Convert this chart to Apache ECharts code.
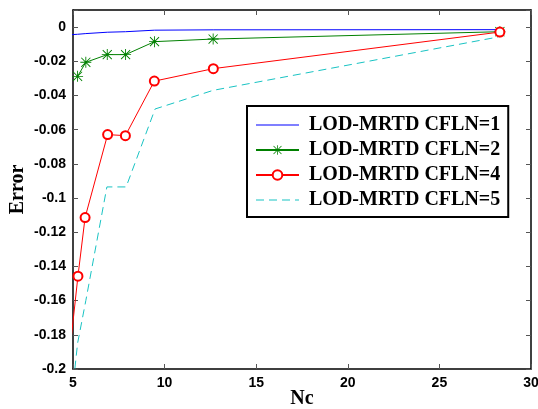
<!DOCTYPE html>
<html>
<head>
<meta charset="utf-8">
<script src="https://cdn.jsdelivr.net/npm/echarts@6/dist/echarts.min.js"></script>
<style>
  html, body { margin: 0; padding: 0; background: #fff; }
  #chart { width: 538px; height: 409px; }
</style>
</head>
<body>
<div id="chart"></div>
<script>
// Nc values (first point of some curves sits just left of the axis and is clipped)
const ncCfl1 = [4.8, 5.25, 5.7, 6.87, 7.87, 9.45, 12.65, 28.3]
const errCfl1 = [-0.0045, -0.0042, -0.0038, -0.003, -0.0027, -0.0018, -0.0016, -0.0015]

const ncCfl2 = [5.25, 5.7, 6.87, 7.87, 9.45, 12.65, 28.3]
const errCfl2 = [-0.0288, -0.0206, -0.0161, -0.0161, -0.0085, -0.007, -0.0027]

const ncCfl4 = [4.8, 5.27, 5.66, 6.89, 7.86, 9.44, 12.66, 28.3]
const errCfl4 = [-0.192, -0.1457, -0.1114, -0.0629, -0.0635, -0.0316, -0.0243, -0.0029]

const ncCfl5 = [4.8, 5.25, 5.7, 6.85, 7.9, 9.48, 12.65, 28.2]
const errCfl5 = [-0.23, -0.185, -0.16, -0.0935, -0.0935, -0.0479, -0.037, -0.0058]

const seriesNames = ['LOD-MRTD CFLN=1', 'LOD-MRTD CFLN=2', 'LOD-MRTD CFLN=4', 'LOD-MRTD CFLN=5']

const zip = (xs, ys) => xs.map((x, i) => [x, ys[i]])

// asterisk marker like matlab '*'
const star = 'path://M9.2,0h1.6v20h-1.6z M0,9.2h20v1.6h-20z M2.3,1.2L18.8,17.7L17.7,18.8L1.2,2.3z M17.7,1.2L18.8,2.3L2.3,18.8L1.2,17.7z'
// legend icons for the marker-less curves (thin sliver on the left keeps the 12px box)
const solidIcon = 'path://M0,5.5h43v1h-43z M0,0h0.01v12h-0.01z'
const dashIcon = 'path://M0,5.5h8v1h-8z M13,5.5h8v1h-8z M26,5.5h8v1h-8z M39,5.5h4v1h-4z M0,0h0.01v12h-0.01z'

const chart = echarts.init(document.getElementById('chart'))
const tickStyle = { show: true, inside: true, length: 5, lineStyle: { color: '#555', width: 1 } }
const frameLine = { show: true, onZero: false, lineStyle: { color: '#000', width: 1.5 } }
const labelFont = { color: '#000', fontFamily: 'Liberation Sans', fontWeight: 'bold', fontSize: 14 }
const nameFont = { color: '#000', fontFamily: 'Liberation Serif', fontWeight: 'bold', fontSize: 20 }

chart.setOption({
  animation: false,
  grid: { left: 73, top: 10, right: 7, bottom: 40, containLabel: false, outerBoundsMode: 'none' },
  legend: {
    orient: 'vertical',
    left: 247,
    top: 106,
    padding: [9, 8, 7, 8],
    borderColor: '#000',
    borderWidth: 2,
    backgroundColor: '#fff',
    itemWidth: 43,
    itemHeight: 12,
    itemGap: 5,
    textStyle: { color: '#000', fontFamily: 'Liberation Serif', fontWeight: 'bold', fontSize: 20, padding: [0, 0, 0, 5] },
    data: [
      { name: seriesNames[0], icon: solidIcon },
      { name: seriesNames[1] },
      { name: seriesNames[2] },
      { name: seriesNames[3], icon: dashIcon }
    ]
  },
  xAxis: [{
    type: 'value',
    min: 5,
    max: 30,
    interval: 5,
    name: 'Nc',
    nameLocation: 'middle',
    nameGap: 20,
    nameMoveOverlap: false,
    nameTextStyle: nameFont,
    axisLine: frameLine,
    axisTick: tickStyle,
    axisLabel: Object.assign({ margin: 7 }, labelFont),
    splitLine: { show: false }
  }, {
    type: 'value',
    position: 'top',
    min: 5,
    max: 30,
    interval: 5,
    axisLine: frameLine,
    axisTick: tickStyle,
    axisLabel: { show: false },
    splitLine: { show: false }
  }],
  yAxis: [{
    type: 'value',
    min: -0.2,
    max: 0.01,
    interval: 0.02,
    name: 'Error',
    nameLocation: 'middle',
    nameGap: 45,
    nameMoveOverlap: false,
    nameTextStyle: nameFont,
    axisLine: frameLine,
    axisTick: tickStyle,
    axisLabel: Object.assign({
      margin: 7,
      formatter: v => (v > 0.001 ? '' : String(Math.round(v * 100) / 100))
    }, labelFont),
    splitLine: { show: false }
  }, {
    type: 'value',
    position: 'right',
    min: -0.2,
    max: 0.01,
    interval: 0.02,
    axisLine: frameLine,
    axisTick: tickStyle,
    axisLabel: { show: false },
    splitLine: { show: false }
  }],
  series: [{
    name: seriesNames[0],
    type: 'line',
    data: zip(ncCfl1, errCfl1),
    symbol: 'none',
    lineStyle: { color: '#0000ff', width: 1 },
    itemStyle: { color: '#0000ff' }
  }, {
    name: seriesNames[1],
    type: 'line',
    data: zip(ncCfl2, errCfl2),
    symbol: star,
    symbolSize: 11,
    lineStyle: { color: '#008000', width: 1 },
    itemStyle: { color: '#008000' }
  }, {
    name: seriesNames[2],
    type: 'line',
    data: zip(ncCfl4, errCfl4),
    symbol: 'emptyCircle',
    symbolSize: 9,
    lineStyle: { color: '#ff0000', width: 1 },
    itemStyle: { color: '#ff0000', borderWidth: 1 }
  }, {
    name: seriesNames[3],
    type: 'line',
    data: zip(ncCfl5, errCfl5),
    symbol: 'none',
    lineStyle: { color: '#19c3c3', width: 1, type: [8, 5] },
    itemStyle: { color: '#19c3c3' }
  }]
})
</script>
</body>
</html>
